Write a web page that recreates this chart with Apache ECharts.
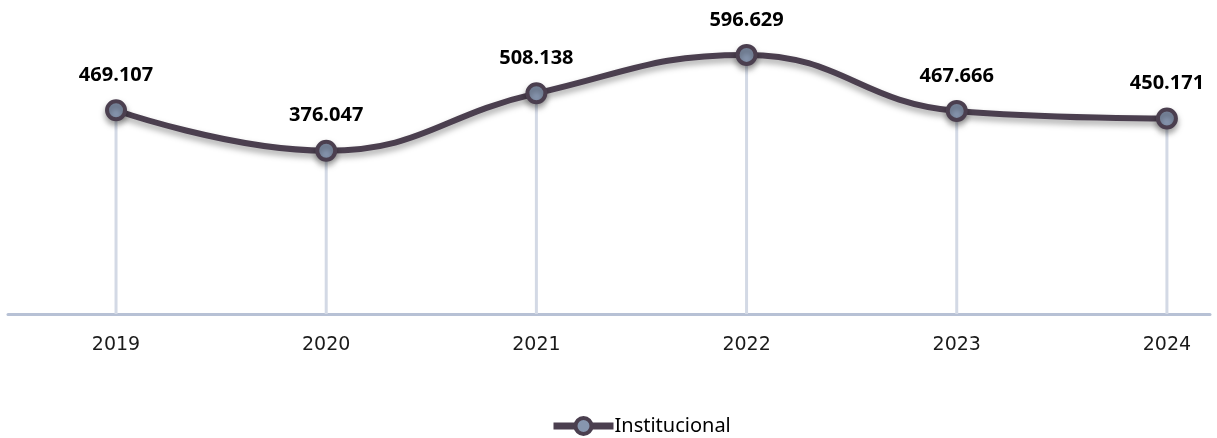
<!DOCTYPE html>
<html>
<head>
<meta charset="utf-8">
<script src="https://cdn.jsdelivr.net/npm/echarts@6/dist/echarts.min.js"></script>
<style>
  html, body { margin: 0; padding: 0; background: #fff; }
  #chart { width: 1217px; height: 438px; }
</style>
</head>
<body>
<div id="chart"></div>
<script>
const years = ["2019", "2020", "2021", "2022", "2023", "2024"];
const values = [469.107, 376.047, 508.138, 596.629, 467.666, 450.171];
const seriesName = "Institucional";

const myChart = echarts.init(document.getElementById("chart"));

const points = values.map((v, i) => [i, v]);
const idx = years.map((y, i) => i);

const option = {
  animation: false,
  grid: {
    top: 10,
    bottom: 124,
    left: 8,
    right: 7,
    containLabel: false,
  },
  legend: {
    bottom: 2,
    left: 550,
    padding: 0,
    itemWidth: 60,
    itemHeight: 20,
    itemGap: 2,
    lineStyle: { width: 7, color: "#4b3f4f" },
    itemStyle: { color: "#8796af", borderColor: "#4b3f4f", borderWidth: 4 },
    textStyle: { color: "#000", fontSize: 20, padding: [0, 0, 0, -4], fontFamily: "'Noto Sans', sans-serif" },
    data: [seriesName],
  },
  xAxis: {
    type: "value",
    min: -0.514,
    max: 5.205,
    splitLine: { show: false },
    axisLine: { show: true, onZero: false, lineStyle: { color: "#b7c1d5", width: 3 } },
    axisTick: { show: false },
    axisLabel: {
      customValues: idx,
      formatter: (v) => years[Math.round(v)],
      color: "#1a1a1a",
      fontSize: 19,
      margin: 22,
      fontFamily: "'DejaVu Sans', sans-serif",
    },
  },
  yAxis: {
    type: "value",
    min: 0,
    max: 700,
    show: false,
  },
  series: [
    {
      type: "bar",
      data: points,
      barWidth: 3,
      silent: true,
      itemStyle: { color: "#d3d9e5" },
      z: 1,
    },
    {
      name: seriesName,
      type: "line",
      data: points,
      smooth: 0.45,
      symbol: "circle",
      symbolSize: 18,
      lineStyle: {
        color: "#4b3f4f",
        width: 6,
        shadowColor: "rgba(0,0,0,0.35)",
        shadowBlur: 6,
        shadowOffsetY: 4,
      },
      itemStyle: {
        color: "#8796af",
        borderColor: "#4b3f4f",
        borderWidth: 4,
        shadowColor: "rgba(0,0,0,0.35)",
        shadowBlur: 6,
        shadowOffsetY: 4,
      },
      label: {
        show: true,
        position: "top",
        distance: 14,
        color: "#000",
        fontSize: 20,
        fontWeight: "bold",
        fontFamily: "'Open Sans', sans-serif",
        formatter: (p) => p.value[1].toFixed(3),
      },
      z: 3,
    },
  ],
};

myChart.setOption(option);
</script>
</body>
</html>
